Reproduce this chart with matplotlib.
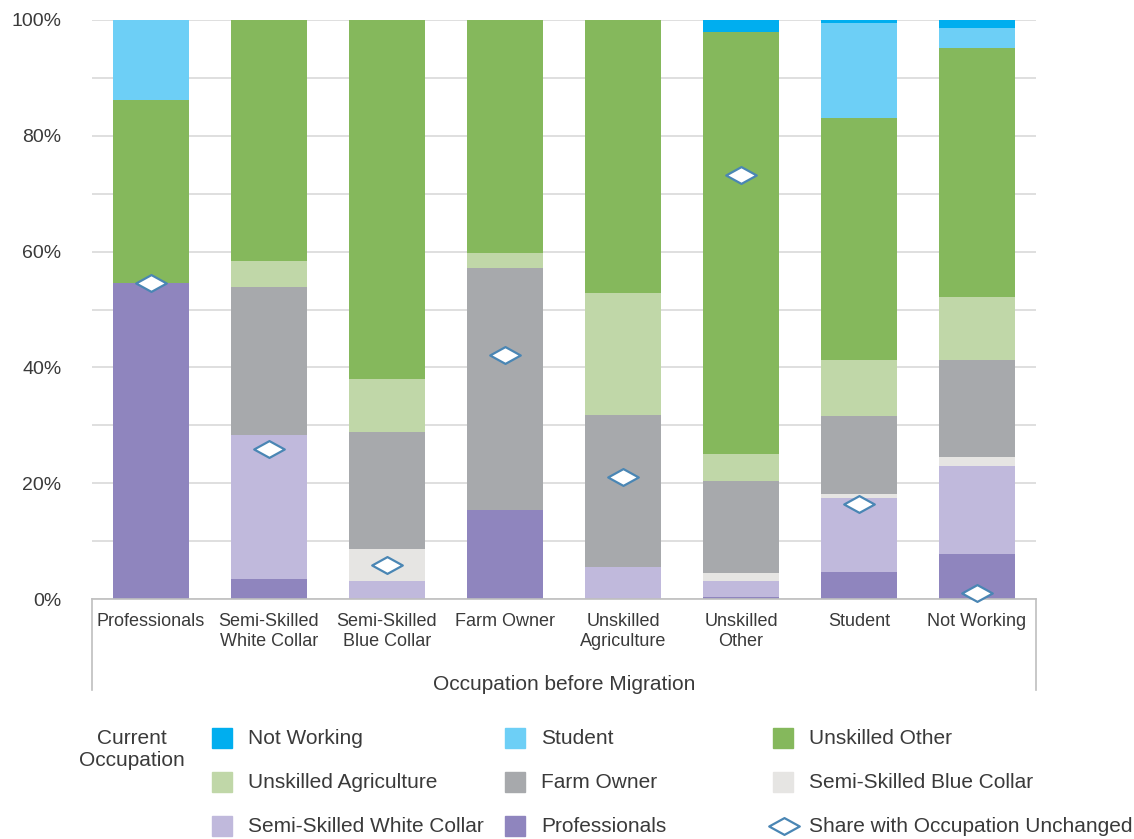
import numpy as np
import matplotlib.pyplot as plt
from matplotlib.patches import Rectangle
from matplotlib.path import Path
from matplotlib.lines import Line2D

plt.rcParams['font.family'] = ['Liberation Sans', 'DejaVu Sans']

# Occupation before migration (x categories)
categories = ["Professionals", "Semi-Skilled\nWhite Collar", "Semi-Skilled\nBlue Collar",
              "Farm Owner", "Unskilled\nAgriculture", "Unskilled\nOther", "Student", "Not Working"]

# Current occupation shares (%), stacked bottom to top
professionals = [54.6, 3.4, 0.0, 15.3, 0.0, 0.4, 4.7, 7.8]
semi_white = [0.0, 24.9, 3.1, 0.0, 5.5, 2.7, 12.7, 15.2]
semi_blue = [0.0, 0.0, 5.5, 0.0, 0.0, 1.4, 0.8, 1.5]
farm_owner = [0.0, 25.5, 20.2, 41.9, 26.2, 15.8, 13.4, 16.8]
unskilled_agri = [0.0, 4.6, 9.2, 2.6, 21.2, 4.7, 9.7, 10.9]
unskilled_other = [31.6, 41.6, 62.0, 40.2, 47.1, 73.0, 41.8, 43.0]
student = [13.8, 0.0, 0.0, 0.0, 0.0, 0.0, 16.4, 3.4]
not_working = [0.0, 0.0, 0.0, 0.0, 0.0, 2.0, 0.5, 1.4]

# Share with occupation unchanged (%)
unchanged = [54.6, 25.9, 5.9, 42.1, 21.0, 73.3, 16.4, 1.1]

series = [
    ("Professionals", professionals, "#8f85be"),
    ("Semi-Skilled White Collar", semi_white, "#c0b9dc"),
    ("Semi-Skilled Blue Collar", semi_blue, "#e6e5e3"),
    ("Farm Owner", farm_owner, "#a7a9ac"),
    ("Unskilled Agriculture", unskilled_agri, "#c0d7a8"),
    ("Unskilled Other", unskilled_other, "#85b85c"),
    ("Student", student, "#6dcff6"),
    ("Not Working", not_working, "#00aeef"),
]
colors = {name: c for name, _, c in series}
text_color = "#3a3a3a"

W, H = 1134, 839
fig = plt.figure(figsize=(W / 100, H / 100), dpi=100)
ax = fig.add_axes([92 / W, 1 - 599 / H, (1036 - 92) / W, (599 - 20) / H])

x = np.arange(len(categories))
bottom = np.zeros(len(categories))
for name, vals, color in series:
    vals = np.array(vals)
    ax.bar(x, vals, bottom=bottom, width=0.645, color=color, edgecolor="none", zorder=2)
    bottom += vals

diamond = Path([(-1, 0), (0, 0.55), (1, 0), (0, -0.55), (-1, 0)],
               [Path.MOVETO, Path.LINETO, Path.LINETO, Path.LINETO, Path.CLOSEPOLY])
ax.plot(x, unchanged, linestyle="none", marker=diamond, markersize=22,
        markerfacecolor="white", markeredgecolor="#4a86b4", markeredgewidth=1.6,
        zorder=5, clip_on=False)

ax.set_xlim(-0.5, len(categories) - 0.5)
ax.set_ylim(0, 100)
ax.set_yticks(np.arange(0, 101, 10))
ax.set_yticklabels([f"{v}%" if v % 20 == 0 else "" for v in range(0, 101, 10)])
ax.yaxis.grid(True, color="#d9d9d9", linewidth=1.2, zorder=0)
ax.set_axisbelow(True)
ax.tick_params(axis="y", length=0, labelsize=14, labelcolor=text_color, pad=22)
ax.set_xticks(x)
ax.set_xticklabels(categories, fontsize=13, color=text_color, linespacing=1.25)
ax.tick_params(axis="x", length=0, pad=10)
for s in ["top", "right", "left"]:
    ax.spines[s].set_visible(False)
ax.spines["bottom"].set_color("#bfbfbf")
ax.spines["bottom"].set_linewidth(1.2)

# category axis frame
depth = -91 / (599 - 20)
for xe in (0, 1):
    ax.add_line(Line2D([xe, xe], [0, depth], transform=ax.transAxes,
                       color="#bfbfbf", linewidth=1.2, clip_on=False))
fig.text((92 + 1036) / 2 / W, 1 - 684 / H, "Occupation before Migration",
         ha="center", va="center", fontsize=15, color=text_color)

# legend
fig.text(132 / W, 1 - 750 / H, "Current\nOccupation", ha="center", va="center",
         fontsize=15, color=text_color, linespacing=1.2)
legend_rows = [
    ["Not Working", "Student", "Unskilled Other"],
    ["Unskilled Agriculture", "Farm Owner", "Semi-Skilled Blue Collar"],
    ["Semi-Skilled White Collar", "Professionals", None],
]
col_x = [212, 505, 773]
row_y = [738, 782, 826]
for r, row in enumerate(legend_rows):
    for c, name in enumerate(row):
        yc = row_y[r]
        if name is not None:
            fig.add_artist(Rectangle((col_x[c] / W, 1 - (yc + 10) / H), 20 / W, 20 / H,
                                     transform=fig.transFigure, color=colors[name]))
            label = name
        else:
            fig.add_artist(Line2D([(col_x[c] + 11) / W], [1 - yc / H], transform=fig.transFigure,
                                  linestyle="none", marker=diamond, markersize=22,
                                  markerfacecolor="white", markeredgecolor="#4a86b4",
                                  markeredgewidth=1.6))
            label = "Share with Occupation Unchanged"
        fig.text((col_x[c] + 36) / W, 1 - (yc + 1) / H, label, ha="left", va="center",
                 fontsize=15, color=text_color)

fig.savefig("out.png", dpi=100)
